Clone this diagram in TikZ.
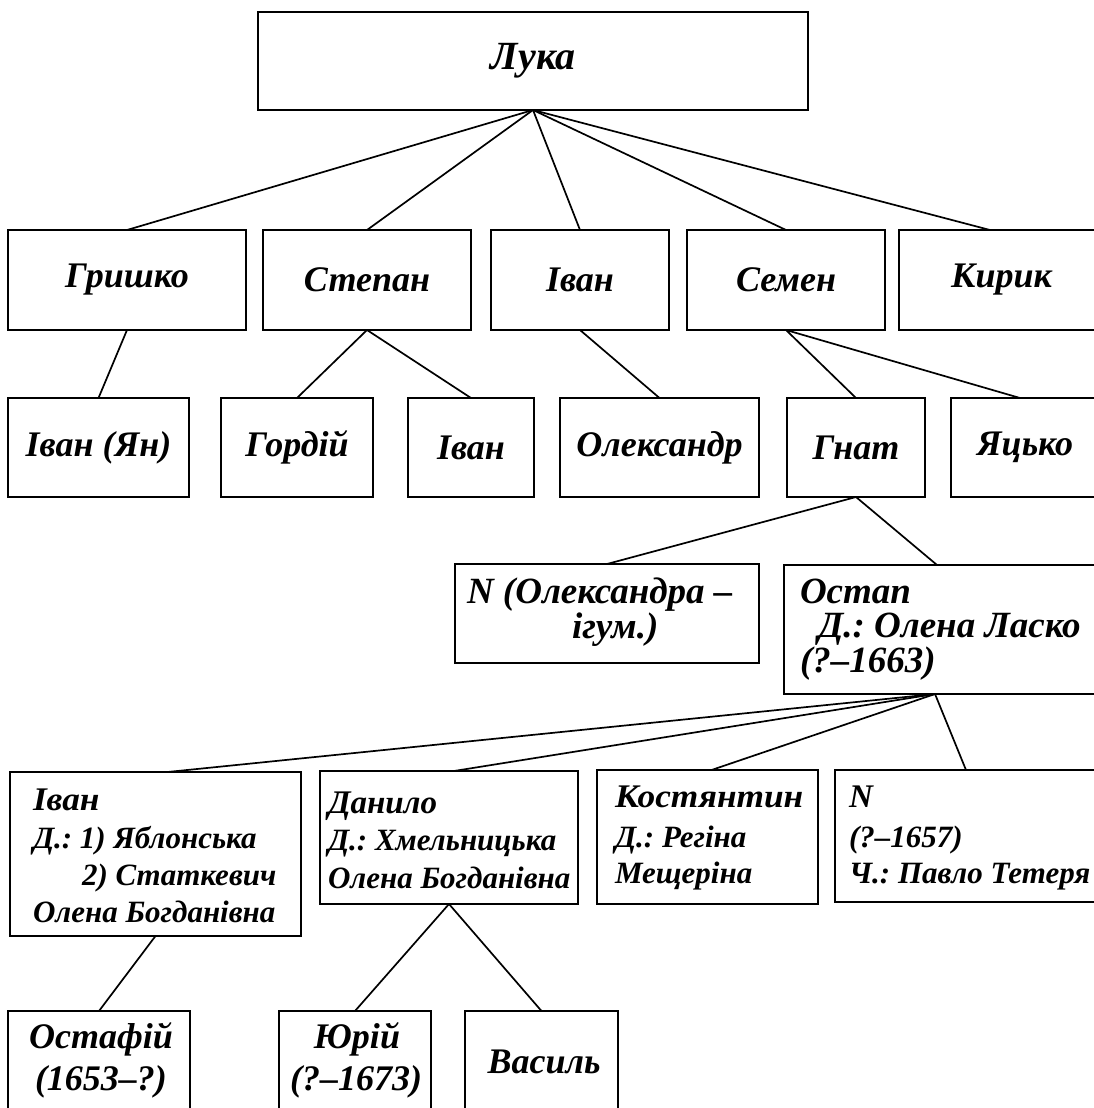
\documentclass[tikz,border=0pt]{standalone}
\usepackage{fontspec}
\setmainfont{Liberation Serif}
\newfontfamily\widefont[FakeStretch=1.07]{Liberation Serif}
\usetikzlibrary{calc}
\frenchspacing
\tikzset{
  box/.style 2 args={draw, line width=2pt, inner sep=0pt, outer sep=0pt, anchor=north west,
    minimum width=#1pt, minimum height=#2pt},
  link/.style={line width=1.7pt},
  big/.style={font=\bfseries\itshape\fontsize{40}{40}\selectfont},
  top/.style={font=\bfseries\itshape\fontsize{36}{36}\selectfont},
  lbl/.style={inner sep=0pt, outer sep=0pt},
  rfour/.style={lbl, anchor=base west, font=\bfseries\itshape\fontsize{37}{37}\selectfont},
  nm/.style={lbl, anchor=base west, font=\bfseries\itshape\fontsize{33}{33}\selectfont},
  wd/.style={lbl, anchor=base west, font=\widefont\bfseries\itshape\fontsize{33}{33}\selectfont},
  sm/.style={lbl, anchor=base west, font=\bfseries\itshape\fontsize{31}{31}\selectfont},
  bot/.style={lbl, anchor=base, font=\bfseries\itshape\fontsize{36}{36}\selectfont},
}
\begin{document}
\begin{tikzpicture}[x=1pt,y=-1pt]
\path[use as bounding box, clip] (0,0) rectangle (1094,1108);
\fill[white] (0,0) rectangle (1094,1108);
% row 1
\node[box={550}{98}, big] (luka) at (258,12) {Лука};
% row 2
\node[box={238}{100}, top] (gryshko) at (8,230) {Гришко};
\node[box={208}{100}, top] (stepan) at (263,230) {Степан};
\node[box={178}{100}, top] (ivanb) at (491,230) {Іван};
\node[box={198}{100}, top] (semen) at (687,230) {Семен};
\node[box={205}{100}, top] (kyryk) at (899,230) {Кирик};
% row 3
\node[box={181}{99}, top] (ivanyan) at (8,398) {Іван (Ян)};
\node[box={152}{99}, top] (hordiy) at (221,398) {Гордій};
\node[box={126}{99}, top] (ivanc) at (408,398) {Іван};
\node[box={199}{99}, top] (oleks) at (560,398) {Олександр};
\node[box={138}{99}, top] (hnat) at (787,398) {Гнат};
\node[box={148}{99}, top] (yatsko) at (951,398) {Яцько};
% row 4
\node[box={304}{99}] (nfour) at (455,564) {};
\node[box={320}{129}] (ostap) at (784,565) {};
\node[rfour] (nfourA) at (467,603) {N (Олександра –};
\node[rfour] (nfourB) at (572,638) {ігум.)};
\node[rfour] (ostapA) at (800,603) {Остап};
\node[rfour] (ostapB) at (818,637) {Д.: Олена Ласко};
\node[rfour] (ostapC) at (800,672) {(?–1663)};
% row 5
\node[box={291}{164}] (ivane) at (10,772) {};
\node[box={258}{133}] (danylo) at (320,771) {};
\node[box={221}{134}] (kost) at (597,770) {};
\node[box={269}{132}] (nfive) at (835,770) {};
\node[wd] (ivaneA) at (33,810) {Іван};
\node[sm] (ivaneB) at (33,848) {Д.: 1) Яблонська};
\node[sm] (ivaneC) at (82,885) {2) Статкевич};
\node[sm] (ivaneD) at (33,922) {Олена Богданівна};
\node[nm] (danyloA) at (328,813) {Данило};
\node[sm] (danyloB) at (328,850) {Д.: Хмельницька};
\node[sm] (danyloC) at (328,888) {Олена Богданівна};
\node[wd] (kostA) at (615,807) {Костянтин};
\node[sm] (kostB) at (615,847) {Д.: Регіна};
\node[sm] (kostC) at (615,883) {Мещеріна};
\node[nm] (nfiveA) at (849,807) {N};
\node[sm] (nfiveB) at (849,847) {(?–1657)};
\node[sm] (nfiveC) at (849,883) {Ч.: Павло Тетеря};
% row 6
\node[box={182}{120}] (ostafiy) at (8,1011) {};
\node[box={152}{120}] (yuriy) at (279,1011) {};
\node[box={153}{120}] (vasyl) at (465,1011) {};
\node[bot] (ostafiyA) at (101,1048) {Остафій};
\node[bot] (ostafiyB) at (101,1090) {(1653–?)};
\node[bot] (yuriyA) at (357,1048) {Юрій};
\node[bot] (yuriyB) at (356,1090) {(?–1673)};
\node[bot] (vasylA) at (544,1073) {Василь};
% connectors
\draw[link] (luka.south) -- (gryshko.north);
\draw[link] (luka.south) -- (stepan.north);
\draw[link] (luka.south) -- (ivanb.north);
\draw[link] (luka.south) -- (semen.north);
\draw[link] (luka.south) -- ($(kyryk.north west)+(91,0)$);
\draw[link] (gryshko.south) -- (ivanyan.north);
\draw[link] (stepan.south) -- (hordiy.north);
\draw[link] (stepan.south) -- (ivanc.north);
\draw[link] (ivanb.south) -- (oleks.north);
\draw[link] (semen.south) -- (hnat.north);
\draw[link] (semen.south) -- ($(yatsko.north west)+(69,0)$);
\draw[link] (hnat.south) -- (nfour.north);
\draw[link] (hnat.south) -- ($(ostap.north west)+(153,0)$);
\coordinate (ostapS) at ($(ostap.south west)+(151,0)$);
\draw[link] (ostapS) -- ($(ivane.north)+(12,0)$);
\draw[link] (ostapS) -- ($(danylo.north)+(5,0)$);
\draw[link] (ostapS) -- ($(kost.north)+(4,0)$);
\draw[link] (ostapS) -- ($(nfive.north west)+(131,0)$);
\draw[link] (ivane.south) -- (ostafiy.north);
\draw[link] (danylo.south) -- (yuriy.north);
\draw[link] (danylo.south) -- (vasyl.north);
\end{tikzpicture}
\end{document}
